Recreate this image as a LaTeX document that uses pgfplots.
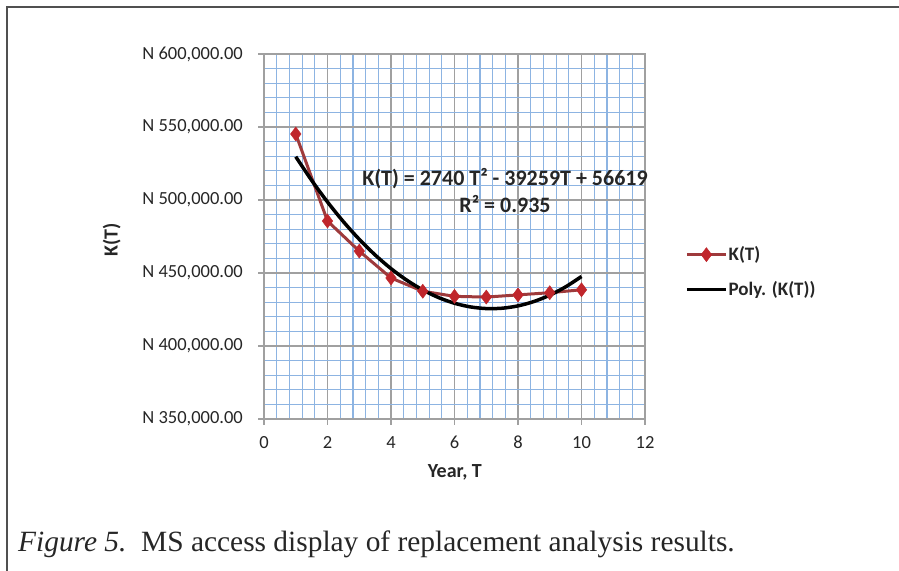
\documentclass[border=0pt]{standalone}
\usepackage{fontspec}
\setmainfont{Carlito}
\newfontfamily\timesfont{Liberation Serif}
\usepackage{pgfplots}
\pgfplotsset{compat=1.18}

\definecolor{kline}{HTML}{9E3A3C}
\definecolor{kmark}{HTML}{C0262C}
\definecolor{minorgrid}{HTML}{8DB4E2}
\definecolor{majorgrid}{HTML}{A0A0A0}
\definecolor{framec}{HTML}{505050}

\begin{document}
\begin{tikzpicture}[x=1bp,y=1bp]
\path[use as bounding box] (0,0) rectangle (899,571);
\draw[framec, line width=2bp] (7,0) -- (7,564) -- (899,564);

\begin{axis}[
    at={(264bp,152bp)}, anchor=south west,
    width=381bp, height=365bp, scale only axis,
    xmin=0, xmax=12, ymin=350000, ymax=600000,
    xtick={0,2,...,12},
    xticklabels={0,2,4,6,8,10,12},
    ytick={350000,400000,450000,500000,550000,600000},
    yticklabels={{N 350,000.00},{N 400,000.00},{N 450,000.00},{N 500,000.00},{N 550,000.00},{N 600,000.00}},
    minor xtick={0.4,0.8,1.2,1.6,2.4,2.8,3.2,3.6,4.4,4.8,5.2,5.6,6.4,6.8,7.2,7.6,8.4,8.8,9.2,9.6,10.4,10.8,11.2,11.6},
    minor ytick={360000,370000,380000,390000,410000,420000,430000,440000,460000,470000,480000,490000,
                 510000,520000,530000,540000,560000,570000,580000,590000},
    grid=both,
    minor grid style={minorgrid, line width=1.2bp},
    major grid style={majorgrid, line width=1.2bp},
    axis line style={majorgrid, line width=1.2bp},
    tick style={majorgrid, line width=1.2bp},
    major tick length=6bp, minor tick length=0pt,
    tick align=outside,
    xtick pos=bottom, ytick pos=left,
    scaled y ticks=false,
    tick label style={font=\fontsize{18.5bp}{22bp}\selectfont, text=black!85},
    yticklabel style={anchor=east, inner sep=0pt, xshift=-15bp},
    xticklabel style={anchor=north, inner sep=0pt, yshift=-11bp},
    xlabel={Year, T},
    ylabel={K(T)},
    every axis x label/.style={at={(rel axis cs:0.501,-0.145)}, anchor=center, font=\bfseries\fontsize{20bp}{24bp}\selectfont, text=black!85},
    every axis y label/.style={at={(rel axis cs:-0.4,0.49)}, rotate=90, anchor=center, font=\bfseries\fontsize{20bp}{24bp}\selectfont, text=black!85},
    legend cell align=left,
    legend style={at={(rel axis cs:1.097,0.483)}, anchor=north west, draw=none, fill=none,
        font=\bfseries\fontsize{19bp}{22bp}\selectfont, text=black!85, row sep=15bp,
        nodes={inner xsep=1bp},
        /tikz/every even column/.append style={column sep=0bp}},
    legend image code/.code={
        \draw[#1, mark repeat=2, mark phase=2] plot coordinates {(0bp,0bp) (19.5bp,0bp) (39bp,0bp)};
    },
    clip=false,
]
\addplot[kline, line width=3bp, mark=diamond*, mark size=7bp,
         mark options={kmark, fill=kmark, draw=kmark, line width=0.5bp}]
  coordinates {
    (1,545200) (2,485600) (3,465000) (4,446600) (5,437500)
    (6,434000) (7,433500) (8,435000) (9,436500) (10,438500)
  };
\addlegendentry{K(T)}
\addplot[black, line width=3.5bp, smooth]
  coordinates {
    (1,529671) (1.5,513466) (2,498632) (2.5,485168) (3,473073)
    (3.5,462348) (4,452994) (4.5,445010) (5,438395) (5.5,433150)
    (6,429276) (6.5,426772) (7,425637) (7.5,425872) (8,427478)
    (8.5,430454) (9,434799) (9.5,440514) (10,447600)
  };
\addlegendentry{Poly. (K(T))}
\node[anchor=base, font=\bfseries\fontsize{22bp}{26bp}\selectfont, text=black!85, inner sep=0pt]
  at (axis cs:7.59,509600) {K(T) = 2740 T² - 39259T + 56619};
\node[anchor=base, font=\bfseries\fontsize{22bp}{26bp}\selectfont, text=black!85, inner sep=0pt]
  at (axis cs:7.59,491100) {R² = 0.935};
\end{axis}

\node[anchor=base west, inner sep=0pt, font=\timesfont\fontsize{29.4bp}{34bp}\selectfont, text=black!85]
  at (18,19) {\textit{Figure 5.}\ \ MS access display of replacement analysis results.};
\end{tikzpicture}
\end{document}
